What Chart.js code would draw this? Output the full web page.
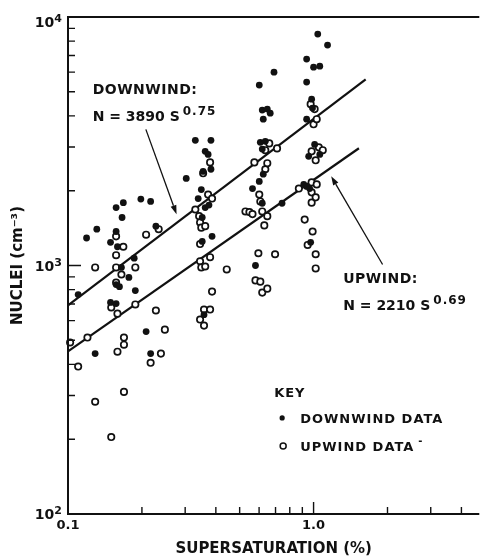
<!DOCTYPE html>
<html>
<head>
<meta charset="utf-8">
<script src="https://cdn.jsdelivr.net/npm/chart.js@4.4.1/dist/chart.umd.min.js"></script>
<style>
  html, body { margin: 0; padding: 0; background: #fff; }
</style>
</head>
<body>
<canvas id="nucleiChart" width="485" height="560"></canvas>
<script>
// [supersaturation %, nuclei cm^-3]
const downwindPoints = [
  [0.110, 764], [0.119, 1290], [0.131, 1400], [0.129, 442], [0.149, 1240],
  [0.149, 710], [0.157, 1710], [0.157, 1370], [0.157, 838], [0.157, 703],
  [0.159, 1190], [0.162, 822], [0.165, 982], [0.166, 1560], [0.168, 1790],
  [0.177, 895], [0.186, 1070], [0.188, 793], [0.198, 1850], [0.208, 542],
  [0.217, 1810], [0.217, 442], [0.228, 1440], [0.303, 2240], [0.330, 3190],
  [0.339, 1860], [0.349, 2020], [0.352, 1560], [0.352, 1250], [0.355, 2390],
  [0.358, 634], [0.362, 2880], [0.362, 1710], [0.372, 2800], [0.375, 1750],
  [0.382, 3190], [0.382, 2440], [0.386, 1310], [0.564, 2040], [0.580, 1000],
  [0.601, 5320], [0.601, 2180], [0.607, 3130], [0.618, 4220], [0.618, 2940],
  [0.618, 1780], [0.624, 3880], [0.624, 2330], [0.636, 3160], [0.648, 4260],
  [0.666, 4100], [0.690, 6000], [0.744, 1780], [0.912, 2120], [0.937, 6770],
  [0.937, 5470], [0.937, 3880], [0.937, 2080], [0.955, 2750], [0.964, 2040],
  [0.973, 1240], [0.982, 4670], [0.99, 4300], [1.00, 6280], [1.01, 3070],
  [1.04, 8540], [1.06, 6340], [1.06, 2800], [1.14, 7710]
];

const upwindPoints = [
  [0.102, 490], [0.110, 392], [0.120, 513], [0.129, 982], [0.129, 283],
  [0.150, 678], [0.150, 204], [0.157, 1310], [0.157, 1100], [0.157, 982],
  [0.157, 854], [0.159, 640], [0.159, 450], [0.165, 920], [0.168, 1190],
  [0.169, 513], [0.169, 480], [0.169, 310], [0.188, 982], [0.188, 697],
  [0.208, 1330], [0.217, 406], [0.228, 659], [0.234, 1400], [0.239, 442],
  [0.248, 552], [0.330, 1680], [0.342, 1580], [0.345, 1490], [0.345, 1220],
  [0.345, 1040], [0.345, 606], [0.349, 1420], [0.349, 982], [0.355, 2350],
  [0.358, 665], [0.358, 573], [0.362, 1440], [0.362, 991], [0.372, 1930],
  [0.379, 2600], [0.379, 1080], [0.379, 665], [0.386, 1860], [0.386, 785],
  [0.443, 964], [0.528, 1650], [0.548, 1640], [0.564, 1610], [0.574, 2600],
  [0.580, 871], [0.596, 1120], [0.601, 1930], [0.607, 1810], [0.607, 861],
  [0.618, 1650], [0.618, 778], [0.630, 1450], [0.636, 2910], [0.636, 2440],
  [0.648, 2580], [0.648, 1580], [0.648, 807], [0.660, 3100], [0.697, 1110],
  [0.710, 2960], [0.871, 2040], [0.920, 1530], [0.946, 1210], [0.973, 4460],
  [0.982, 2880], [0.982, 2160], [0.982, 1970], [0.982, 1790], [0.991, 1370],
  [1.00, 3700], [1.01, 4260], [1.02, 2650], [1.02, 1880], [1.02, 1110],
  [1.02, 973], [1.03, 3880], [1.03, 2120], [1.05, 2990], [1.09, 2910]
];

// fitted power laws N = a * S^b, drawn between the S limits given
const downwindFit = { a: 3890, b: 0.75, from: 0.1, to: 1.63 };
const upwindFit = { a: 2210, b: 0.69, from: 0.1, to: 1.53 };

const xTickLabels = [[0.1, '0.1'], [1, '1.0']];
const yTickLabels = [[100, '2'], [1000, '3'], [10000, '4']];

const ink = '#111';
const FONT = "'DejaVu Sans', sans-serif";

function fitLine(fit) {
  return [fit.from, fit.to].map(s => ({ x: s, y: fit.a * Math.pow(s, fit.b) }));
}

function arrow(ctx, x0, y0, x1, y1) {
  const ang = Math.atan2(y1 - y0, x1 - x0);
  const len = 9, half = 3;
  const bx = x1 - len * Math.cos(ang), by = y1 - len * Math.sin(ang);
  ctx.lineWidth = 1.3;
  ctx.beginPath();
  ctx.moveTo(x0, y0);
  ctx.lineTo(bx, by);
  ctx.stroke();
  ctx.beginPath();
  ctx.moveTo(x1, y1);
  ctx.lineTo(bx + half * Math.sin(ang), by - half * Math.cos(ang));
  ctx.lineTo(bx - half * Math.sin(ang), by + half * Math.cos(ang));
  ctx.closePath();
  ctx.fill();
}

function powerLaw(ctx, px, py, main, exp) {
  ctx.font = `bold 14px ${FONT}`;
  ctx.fillText(main, px, py);
  const w = ctx.measureText(main).width;
  ctx.font = `bold 12px ${FONT}`;
  ctx.letterSpacing = '1px';
  ctx.fillText(exp, px + w + 3, py - 6);
  ctx.letterSpacing = '0px';
}

// axes frame, inward ticks, tick labels and the hand-lettered notes
const paperPlugin = {
  id: 'paper',
  afterDraw(chart) {
    const { ctx, chartArea: a, scales: { x, y } } = chart;
    const at = (s, n) => [x.getPixelForValue(s), y.getPixelForValue(n)];
    ctx.save();
    ctx.strokeStyle = ink;
    ctx.fillStyle = ink;

    ctx.lineWidth = 2;
    ctx.beginPath();
    ctx.moveTo(a.right, a.top);
    ctx.lineTo(a.left, a.top);
    ctx.lineTo(a.left, a.bottom);
    ctx.lineTo(a.right, a.bottom);
    ctx.stroke();

    ctx.lineWidth = 1.4;
    ctx.beginPath();
    for (let d = 100; d < 10000; d *= 10) {
      for (let m = 1; m <= 9; m++) {
        if (d * m === 100) continue;
        const py = y.getPixelForValue(d * m);
        ctx.moveTo(a.left, py);
        ctx.lineTo(a.left + (m === 1 ? 13 : 7), py);
      }
    }
    for (const d of [0.1, 1]) {
      for (let m = 1; m <= 9; m++) {
        const v = d * m;
        if (v <= 0.1 || v > x.max) continue;
        const px = x.getPixelForValue(v);
        ctx.moveTo(px, a.bottom);
        ctx.lineTo(px, a.bottom - (m === 1 ? 12 : 7));
      }
    }
    ctx.stroke();

    // tick labels
    ctx.textBaseline = 'alphabetic';
    ctx.textAlign = 'right';
    yTickLabels.forEach(([v, e]) => {
      const py = Math.max(y.getPixelForValue(v), a.top + 5);
      ctx.font = `bold 11px ${FONT}`;
      const ex = a.left - 6;
      ctx.fillText(e, ex, py);
      const ew = ctx.measureText(e).width;
      ctx.font = `bold 14px ${FONT}`;
      ctx.fillText('10', ex - ew, py + 5);
    });
    ctx.textAlign = 'center';
    ctx.font = `bold 13px ${FONT}`;
    xTickLabels.forEach(([v, t]) => {
      ctx.fillText(t, x.getPixelForValue(v), a.bottom + 15);
    });

    // fit annotations
    ctx.textAlign = 'left';
    let [px, py] = at(0.126, 4890);
    ctx.font = `bold 14px ${FONT}`;
    ctx.letterSpacing = '0.5px';
    ctx.fillText('DOWNWIND:', px, py);
    ctx.letterSpacing = '0px';
    powerLaw(ctx, px, py + 27, 'N = 3890 S', '0.75');
    arrow(ctx, ...at(0.2075, 3530), ...at(0.2767, 1607));

    [px, py] = at(1.32, 853);
    ctx.font = `bold 14px ${FONT}`;
    ctx.letterSpacing = '0.5px';
    ctx.fillText('UPWIND:', px, py);
    ctx.letterSpacing = '0px';
    powerLaw(ctx, px, py + 27, 'N = 2210 S', '0.69');
    arrow(ctx, ...at(1.91, 1009), ...at(1.18, 2285));

    // key
    [px, py] = at(0.691, 296);
    ctx.font = `bold 13px ${FONT}`;
    ctx.letterSpacing = '1px';
    ctx.fillText('KEY', px, py);
    ctx.fillText('DOWNWIND DATA', px + 26, py + 26);
    ctx.fillText('UPWIND DATA', px + 26, py + 54);
    const uw = ctx.measureText('UPWIND DATA').width;
    ctx.letterSpacing = '0px';
    ctx.font = `bold 10px ${FONT}`;
    ctx.fillText('-', px + 30 + uw, py + 47);
    ctx.beginPath();
    ctx.arc(px + 8, py + 21, 2.6, 0, Math.PI * 2);
    ctx.fill();
    ctx.lineWidth = 1.5;
    ctx.beginPath();
    ctx.arc(px + 9, py + 49, 3, 0, Math.PI * 2);
    ctx.stroke();

    ctx.restore();
  }
};

new Chart(document.getElementById('nucleiChart'), {
  type: 'scatter',
  data: {
    datasets: [
      {
        label: 'Downwind data',
        data: downwindPoints.map(([s, n]) => ({ x: s, y: n })),
        pointRadius: 3.4,
        pointBackgroundColor: ink,
        pointBorderWidth: 0,
        clip: false,
        order: 0
      },
      {
        label: 'Upwind data',
        data: upwindPoints.map(([s, n]) => ({ x: s, y: n })),
        pointRadius: 3.2,
        pointBackgroundColor: '#fff',
        pointBorderColor: ink,
        pointBorderWidth: 1.7,
        clip: false,
        order: 1
      },
      {
        label: 'Downwind fit',
        data: fitLine(downwindFit),
        showLine: true,
        pointRadius: 0,
        borderColor: ink,
        borderWidth: 2.2,
        clip: false,
        order: 2
      },
      {
        label: 'Upwind fit',
        data: fitLine(upwindFit),
        showLine: true,
        pointRadius: 0,
        borderColor: ink,
        borderWidth: 2.2,
        clip: false,
        order: 2
      }
    ]
  },
  options: {
    responsive: false,
    animation: false,
    layout: { padding: { top: 17, right: 0, left: 0, bottom: 0 } },
    plugins: { legend: { display: false }, tooltip: { enabled: false } },
    scales: {
      x: {
        type: 'logarithmic',
        min: 0.1,
        max: 4.73,
        grid: { display: false },
        border: { display: false },
        ticks: { display: false },
        afterFit: s => { s.height = 46; },
        title: {
          display: true,
          text: 'SUPERSATURATION (%)',
          color: ink,
          font: { family: FONT, size: 15, weight: 'bold' },
          padding: { top: 0, bottom: 2 }
        }
      },
      y: {
        type: 'logarithmic',
        min: 100,
        max: 10000,
        grid: { display: false },
        border: { display: false },
        ticks: { display: false },
        afterFit: s => { s.width = 68; },
        title: {
          display: true,
          text: 'NUCLEI (cm⁻³)',
          color: ink,
          font: { family: FONT, size: 15, weight: 'bold' },
          padding: { top: 9, bottom: 0 }
        }
      }
    }
  },
  plugins: [paperPlugin]
});
</script>
</body>
</html>
